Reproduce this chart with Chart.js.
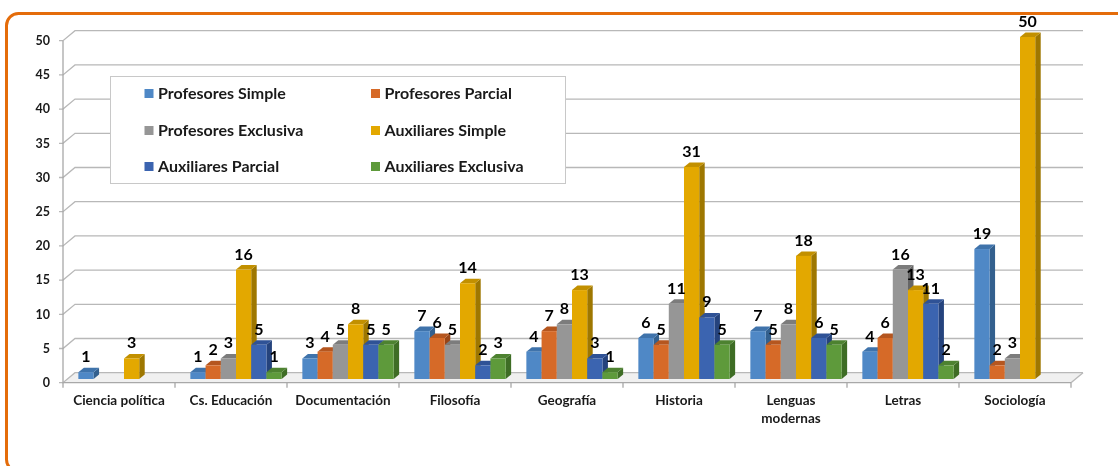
<!DOCTYPE html>
<html><head><meta charset="utf-8">
<script src="https://cdn.jsdelivr.net/npm/chart.js@4.4.1/dist/chart.umd.min.js"></script>
<style>
html,body{margin:0;padding:0;background:#fff;overflow:hidden;}
#wrap{position:relative;width:1118px;height:466px;}
canvas{display:block;}
</style></head><body>
<div id="wrap"><canvas id="c" width="1118" height="466"></canvas></div>
<script>
// ---- data ----
const categories = ['Ciencia política', 'Cs. Educación', 'Documentación', 'Filosofía', 'Geografía', 'Historia', ['Lenguas', 'modernas'], 'Letras', 'Sociología'];
const seriesNames = ['Profesores Simple', 'Profesores Parcial', 'Profesores Exclusiva', 'Auxiliares Simple', 'Auxiliares Parcial', 'Auxiliares Exclusiva'];
const profesoresSimple    = [1,    1,  3,  7,  4,  6,  7,  4, 19];
const profesoresParcial   = [null, 2,  4,  6,  7,  5,  5,  6,  2];
const profesoresExclusiva = [null, 3,  5,  5,  8, 11,  8, 16,  3];
const auxiliaresSimple    = [3,   16,  8, 14, 13, 31, 18, 13, 50];
const auxiliaresParcial   = [null, 5,  5,  2,  3,  9,  6, 11, null];
const auxiliaresExclusiva = [null, 1,  5,  3,  1,  5,  5,  2, null];
const yMin = 0, yMax = 50, yStep = 5;

// ---- styles ----
const frontColors = ['#4F88C6', '#D66A28', '#969696', '#E3A800', '#3B64B0', '#5E9A3B'];
const topColors   = ['#3F73AB', '#B5561F', '#7C7C7C', '#C29000', '#2F5296', '#4D8230'];
const sideColors  = ['#33608E', '#984517', '#666666', '#9E7700', '#25437D', '#3E6D25'];
const FONT = 'Lato, "Open Sans", sans-serif';
const WALL = {x: 12, y: -10};     // depth of back wall
const BAR = {x: 5.5, y: -4.5};    // depth of bars
const FRONT = {x: -5, y: 3.7};    // bar plane -> front plane
const GRID = '#B8B8B8';

const seriesValues = [profesoresSimple, profesoresParcial, profesoresExclusiva, auxiliaresSimple, auxiliaresParcial, auxiliaresExclusiva];

const threeD = {
  id: 'threeD',
  beforeDraw(chart) {
    const ctx = chart.ctx;
    ctx.save();
    ctx.strokeStyle = '#E46C0A';
    ctx.lineWidth = 3;
    const x = 6.5, y = 13.5, w = 1400, h = 458, r = 12;
    ctx.beginPath();
    ctx.moveTo(x + w, y);
    ctx.lineTo(x + r, y);
    ctx.arcTo(x, y, x, y + r, r);
    ctx.lineTo(x, y + h - r);
    ctx.arcTo(x, y + h, x + r, y + h, r);
    ctx.lineTo(x + w, y + h);
    ctx.stroke();
    ctx.restore();
  },
  beforeDatasetsDraw(chart) {
    const ctx = chart.ctx, ys = chart.scales.y, ca = chart.chartArea;
    const fl = ca.left + FRONT.x, fr = ca.right + FRONT.x;
    const y0 = ys.getPixelForValue(yMin) + FRONT.y;
    const yTop = ys.getPixelForValue(yMax) + FRONT.y;
    ctx.save();
    // floor
    ctx.fillStyle = '#F0F0F0';
    ctx.beginPath();
    ctx.moveTo(fl, y0); ctx.lineTo(fr, y0); ctx.lineTo(fr + WALL.x, y0 + WALL.y); ctx.lineTo(fl + WALL.x, y0 + WALL.y);
    ctx.closePath(); ctx.fill();
    ctx.strokeStyle = GRID; ctx.lineWidth = 1.3;
    // gridlines on side/back wall
    ys.ticks.forEach(t => {
      const yf = ys.getPixelForValue(t.value) + FRONT.y;
      ctx.beginPath();
      ctx.moveTo(fl - 4, yf); ctx.lineTo(fl, yf);
      ctx.lineTo(fl + WALL.x, yf + WALL.y);
      ctx.lineTo(fr + WALL.x, yf + WALL.y);
      ctx.stroke();
    });
    // floor right edge
    ctx.beginPath(); ctx.moveTo(fr, y0); ctx.lineTo(fr + WALL.x, y0 + WALL.y); ctx.stroke();
    // front axes
    ctx.strokeStyle = '#A8A8A8';
    ctx.beginPath(); ctx.moveTo(fl, yTop); ctx.lineTo(fl, y0); ctx.lineTo(fr, y0); ctx.stroke();
    const n = categories.length, cw = (fr - fl) / n;
    for (let k = 0; k <= n; k++) {
      const xx = fl + k * cw;
      ctx.beginPath(); ctx.moveTo(xx, y0); ctx.lineTo(xx, y0 + 5); ctx.stroke();
    }
    // legend box
    const lx = 110.5, ly = 76.5, lw = 455, lh = 107;
    ctx.fillStyle = '#FFFFFF'; ctx.fillRect(lx, ly, lw, lh);
    ctx.strokeStyle = '#C8C8C8'; ctx.lineWidth = 1; ctx.strokeRect(lx, ly, lw, lh);
    ctx.font = 'bold 16px ' + FONT; ctx.textBaseline = 'middle'; ctx.textAlign = 'left';
    const colX = [144.5, 371], rowY = [93.5, 130.5, 166.5];
    chart.data.datasets.forEach((ds, i) => {
      const cx = colX[i % 2], cy = rowY[Math.floor(i / 2)];
      ctx.fillStyle = ds.backgroundColor;
      ctx.fillRect(cx, cy - 4.5, 9, 9);
      ctx.fillStyle = '#1A1A1A';
      ctx.fillText(ds.label, cx + 13.5, cy + 0.5);
    });
    ctx.restore();
  },
  beforeDatasetDraw() { return false; },
  afterDatasetsDraw(chart) {
    const ctx = chart.ctx;
    ctx.save();
    chart.data.datasets.forEach((ds, i) => {
      const meta = chart.getDatasetMeta(i);
      meta.data.forEach((el, j) => {
        if (ds.data[j] === null || ds.data[j] === undefined) return;
        const l = el.x - el.width / 2, r = el.x + el.width / 2, t = el.y, b = el.base;
        // side
        ctx.fillStyle = sideColors[i];
        ctx.beginPath();
        ctx.moveTo(r, t); ctx.lineTo(r + BAR.x, t + BAR.y); ctx.lineTo(r + BAR.x, b + BAR.y); ctx.lineTo(r, b);
        ctx.closePath(); ctx.fill();
        // top
        ctx.fillStyle = topColors[i];
        ctx.beginPath();
        ctx.moveTo(l, t); ctx.lineTo(l + BAR.x, t + BAR.y); ctx.lineTo(r + BAR.x, t + BAR.y); ctx.lineTo(r, t);
        ctx.closePath(); ctx.fill();
        // front
        ctx.fillStyle = ds.backgroundColor;
        ctx.fillRect(l, t, r - l, b - t);
      });
    });
    // value labels
    ctx.font = 'bold 16px ' + FONT; ctx.fillStyle = '#000'; ctx.textAlign = 'center'; ctx.textBaseline = 'alphabetic';
    chart.data.datasets.forEach((ds, i) => {
      const meta = chart.getDatasetMeta(i);
      meta.data.forEach((el, j) => {
        const v = ds.data[j];
        if (v === null || v === undefined) return;
        ctx.fillText(String(v), el.x, el.y - 10);
      });
    });
    ctx.restore();
  }
};

new Chart(document.getElementById('c'), {
  type: 'bar',
  data: {
    labels: categories,
    datasets: seriesNames.map((name, i) => ({
      label: name,
      data: seriesValues[i],
      backgroundColor: frontColors[i],
      categoryPercentage: 0.815,
      barPercentage: 1.0
    }))
  },
  options: {
    responsive: false,
    animation: false,
    layout: {padding: {left: 0, right: 42, top: 37, bottom: 0}},
    plugins: {legend: {display: false}, tooltip: {enabled: false}},
    scales: {
      x: {
        grid: {display: false, drawTicks: false},
        border: {display: false},
        ticks: {font: {family: FONT, size: 13.5, weight: 'bold', lineHeight: 1.3}, color: '#1A1A1A', padding: 13, labelOffset: -5, maxRotation: 0, autoSkip: false},
        afterFit(s) { s.height = 87; }
      },
      y: {
        min: yMin, max: yMax,
        grid: {display: false, drawTicks: false},
        border: {display: false},
        ticks: {stepSize: yStep, font: {family: FONT, size: 12.5, weight: 'bold'}, color: '#1A1A1A', padding: 18, labelOffset: 4},
        afterFit(s) { s.width = 68; }
      }
    }
  },
  plugins: [threeD]
});
</script>
</body></html>
